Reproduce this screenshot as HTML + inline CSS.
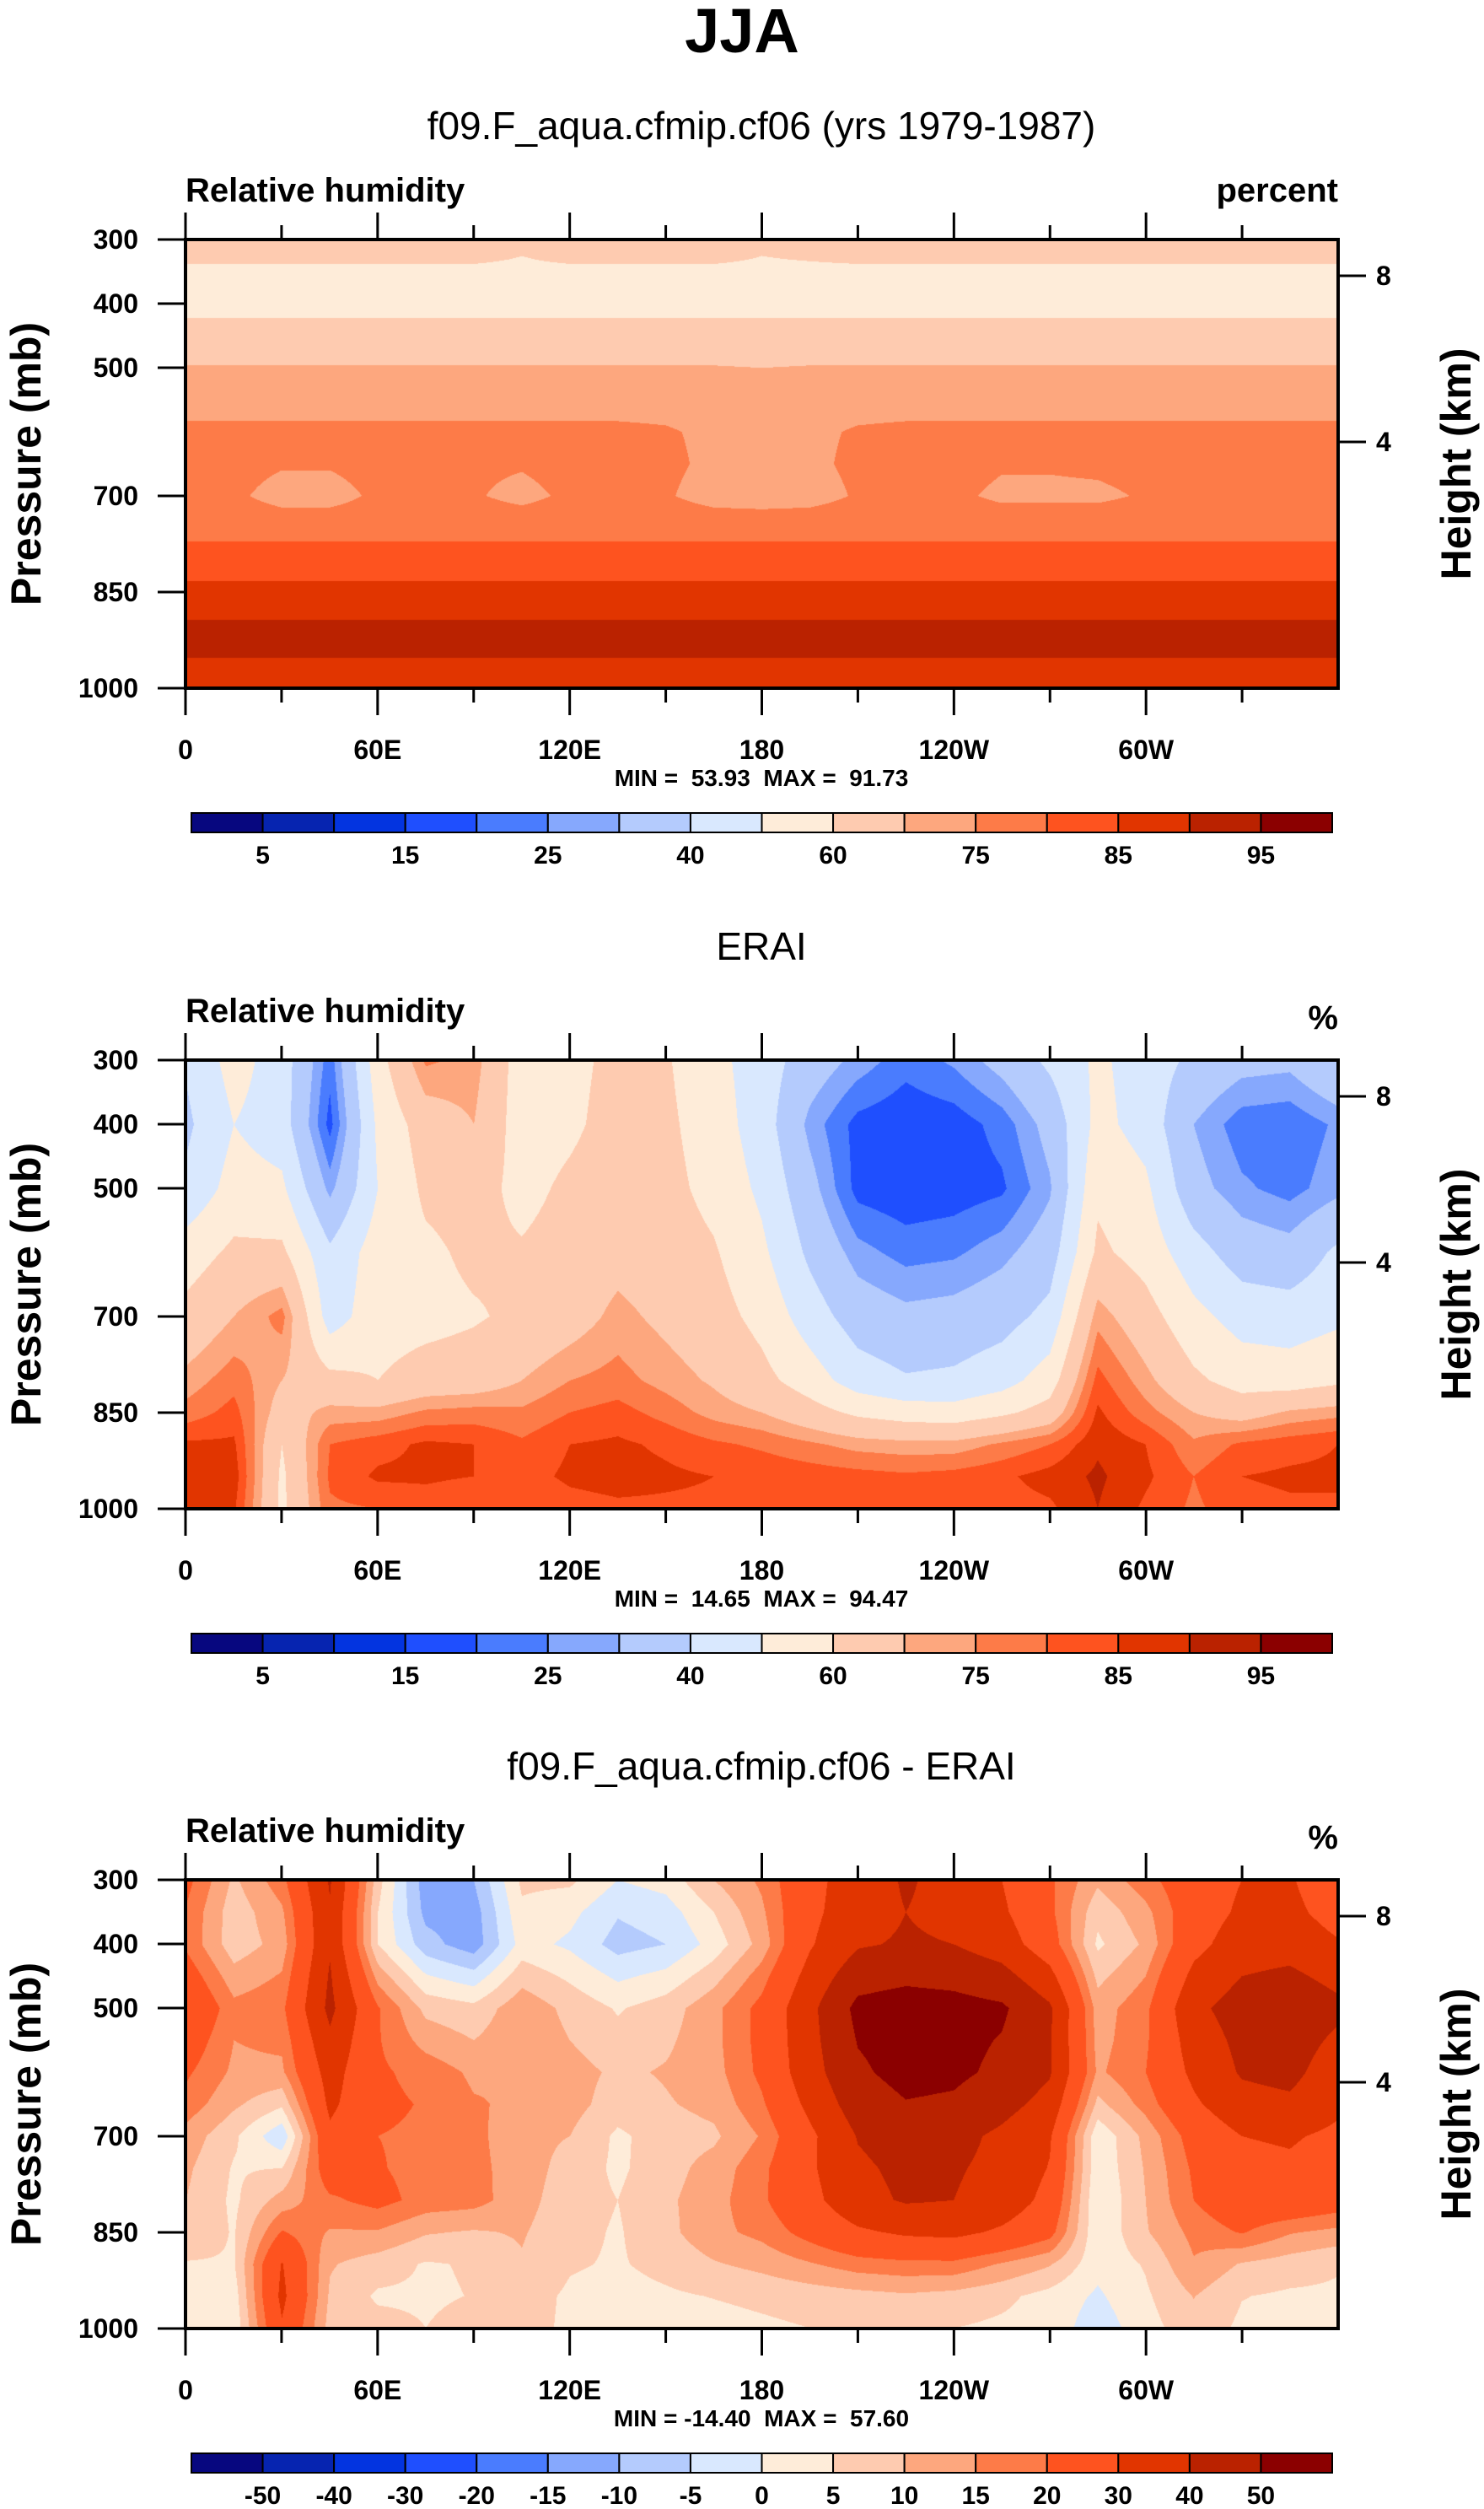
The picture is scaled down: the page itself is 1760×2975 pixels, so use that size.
<!DOCTYPE html>
<html><head><meta charset="utf-8">
<style>
html,body{margin:0;padding:0;background:#fff;}
#wrap{position:relative;width:1760px;height:2975px;overflow:hidden;font-family:"Liberation Sans",Arial,sans-serif;}
canvas{position:absolute;}
svg{position:absolute;left:0;top:0;}
</style></head>
<body>
<div id="wrap">
<canvas id="c1" width="1367" height="532" style="left:220px;top:284px"></canvas>
<canvas id="c2" width="1367" height="532" style="left:220px;top:1257px"></canvas>
<canvas id="c3" width="1367" height="532" style="left:220px;top:2229px"></canvas>
<svg id="ov" width="1760" height="2975" xmlns="http://www.w3.org/2000/svg">
<text x="880" y="62" text-anchor="middle" font-size="74" font-weight="bold">JJA</text>
</svg>
</div>
<script>
// ---------- DATA ----------
const lons = [0,15,30,45,60,75,90,105,120,135,150,165,180,195,210,225,240,255,270,285,300,315,330,345,360];
const modelLevs = [300,350,400,450,500,550,600,650,700,750,800,850,900,950,1000];
const modelRH = [
[63,63,63,63,63,63,63,61,63,63,63,63,61,62,63,63,63,63,63,63,63,63,63,63,63],
[59,59,59,59,59,59,59,59,59,59,59,59,59,59,59,59,59,59,59,59,59,59,59,59,59],
[57,57,57,57,57,57,57,57,57,57,57,57,57,57,57,57,57,57,57,57,57,57,57,57,57],
[64,64,64,64,64,64,64,64,64,64,64,64,64,64,64,64,64,64,64,64,64,64,64,64,64],
[70.5,70.5,70.5,70.5,70.5,70.5,70.5,70.5,70.5,70.5,70.5,70.5,70,70.5,70.5,70.5,70.5,70.5,70.5,70.5,70.5,70.5,70.5,70.5,70.5],
[73,73,73,73,73,73,73,73,73,73,73,72.5,72,72.5,73,73,73,73,73,73,73,73,73,73,73],
[76,76,76,76,76,76,76,76,76,76,75.5,74,73.5,74,75.5,76,76,76,76,76,76,76,76,76,76],
[77,77,75.5,75.5,77,77,76,75.5,77,77,76,74,73.5,74,76,77,77,75.5,75.5,76,77,77,77,77,77],
[76,76,73,73,76,76,75.5,73.5,76,76,75.5,73,72.5,73,75.5,76,76,74,74,74,75.5,76,76,76,76],
[78.5,78.5,78.5,78.5,78.5,78.5,78.5,78.5,78.5,78.5,78.5,78.5,78.5,78.5,78.5,78.5,78.5,78.5,78.5,78.5,78.5,78.5,78.5,78.5,78.5],
[82,82,82,82,82,82,82,82,82,82,82,82,82,82,82,82,82,82,82,82,82,82,82,82,82],
[86.5,86.5,86.5,86.5,86.5,86.5,86.5,86.5,86.5,86.5,86.5,86.5,86.5,86.5,86.5,86.5,86.5,86.5,86.5,86.5,86.5,86.5,86.5,86.5,86.5],
[90.5,90.5,90.5,90.5,90.5,90.5,90.5,90.5,90.5,90.5,90.5,90.5,90.5,90.5,90.5,90.5,90.5,90.5,90.5,90.5,90.5,90.5,90.5,90.5,90.5],
[90.2,90.2,90.2,90.2,90.2,90.2,90.2,90.2,90.2,90.2,90.2,90.2,90.2,90.2,90.2,90.2,90.2,90.2,90.2,90.2,90.2,90.2,90.2,90.2,90.2],
[87,87,87,87,87,87,87,87,87,87,87,87,87,87,87,87,87,87,87,87,87,87,87,87,87]
];
const eraLevs = [300,400,500,600,700,800,850,900,950,1000];
// columns by longitude (0..360 step 15), each giving values at eraLevs
const eraCols = [
[41,38,42,55,63,72,77,86,87,86],
[54,50,54,62,70,78,82,86,88,86],
[45,45,52,62,77,70,66,60,58,58],
[22,18,28,42,45,63,72,80,81,79],
[56,52,50,55,56,60,72,83,86,80],
[76,65,62,58,57,64,76,86,86,82],
[73,70,64,62,59,65,77,85,85,80],
[55,55,57,61,62,70,76,81,83,80],
[57,58,62,64,66,75,80,85,86,83],
[63,64,66,67,72,77,82,86,87,84],
[61,62,63,65,68,73,78,84,86,84],
[53,55,57,61,64,69,73,81,85,84],
[45,45,48,52,57,63,70,79,84,83],
[35,28,33,38,45,55,64,76,83,82],
[28,18,18,27,35,45,58,73,82,82],
[22,16,16,23,32,41,55,72,81,81],
[26,17,17,24,33,42,54,72,82,82],
[33,22,19,28,36,46,58,76,84,83],
[42,33,29,35,43,55,64,80,87,84],
[52,53,58,62,73,82,86,89,91,90],
[45,46,52,56,64,72,77,85,86,84],
[38,30,33,44,53,62,70,76,80,79],
[33,22,26,35,46,56,66,81,85,83],
[32,21,23,33,45,55,71,83,86,84],
[40,26,28,42,48,58,73,85,86,84]
];
const rhBounds = [5,10,15,20,25,30,40,50,60,70,75,80,85,90,95];
const rhLabels = ["5","15","25","40","60","75","85","95"];
const diffBounds = [-50,-40,-30,-20,-15,-10,-5,0,5,10,15,20,30,40,50];
const diffLabels = ["-50","-40","-30","-20","-15","-10","-5","0","5","10","15","20","30","40","50"];
const palette = ['#07077f','#0624b0','#0334e0','#1f4ffe','#4a7cfe','#86a8fd','#b4cbfd','#d9e8fe','#feecd9','#fecbb0','#fda77e','#fd7b48','#fe531f','#e13500','#ba2200','#8b0000'];
const lonTicks = [0,60,120,180,240,300];
const lonTickLabels = ["0","60E","120E","180","120W","60W"];
const presTicks = [300,400,500,700,850,1000];
const heightTicks = [8,4];
const heightTickFrac = [43/532, 240/532];
const minmax = ["MIN =  53.93  MAX =  91.73","MIN =  14.65  MAX =  94.47","MIN = -14.40  MAX =  57.60"];

// ---------- helpers ----------
const X0=220, W=1367, H=532;
const panelTops=[284,1257,2229];
function xOfLon(l){return X0 + l/360*W;}
function yOfP(top,p){return top + (p-300)/700*H;}
function lerpIdx(arr,v){let i=0;while(i<arr.length-2 && v>arr[i+1]) i++;const t=(v-arr[i])/(arr[i+1]-arr[i]);return [i,Math.max(0,Math.min(1,t))];}
function modelVal(lon,p){const [i,ti]=lerpIdx(lons,lon);const [j,tj]=lerpIdx(modelLevs,p);
 const a=modelRH[j][i],b=modelRH[j][i+1],c=modelRH[j+1][i],d=modelRH[j+1][i+1];
 return (a*(1-ti)+b*ti)*(1-tj)+(c*(1-ti)+d*ti)*tj;}
function eraVal(lon,p){const [i,ti]=lerpIdx(lons,lon);const [j,tj]=lerpIdx(eraLevs,p);
 const a=eraCols[i][j],b=eraCols[i+1][j],c=eraCols[i][j+1],d=eraCols[i+1][j+1];
 return (a*(1-ti)+b*ti)*(1-tj)+(c*(1-ti)+d*ti)*tj;}
function bin(v,b){let k=0;while(k<b.length && v>=b[k])k++;return k;}
const rgb=palette.map(h=>[parseInt(h.slice(1,3),16),parseInt(h.slice(3,5),16),parseInt(h.slice(5,7),16)]);
function paint(id,fn,bounds){
 const cv=document.getElementById(id),ctx=cv.getContext('2d');const img=ctx.createImageData(W,H);
 for(let y=0;y<H;y++){const p=300+y/(H-1)*700;
  for(let x=0;x<W;x++){const lon=x/(W-1)*360;const c=rgb[bin(fn(lon,p),bounds)];const o=(y*W+x)*4;
   img.data[o]=c[0];img.data[o+1]=c[1];img.data[o+2]=c[2];img.data[o+3]=255;}}
 ctx.putImageData(img,0,0);}
paint('c1',modelVal,rhBounds);
paint('c2',eraVal,rhBounds);
paint('c3',(l,p)=>modelVal(l,p)-eraVal(l,p),diffBounds);

// ---------- axes ----------
const NS="http://www.w3.org/2000/svg";const svg=document.getElementById('ov');
function mk(tag,attrs,txt){const e=document.createElementNS(NS,tag);for(const k in attrs)e.setAttribute(k,attrs[k]);if(txt!==undefined)e.textContent=txt;svg.appendChild(e);return e;}
const subtitles=["f09.F_aqua.cfmip.cf06 (yrs 1979-1987)","ERAI","f09.F_aqua.cfmip.cf06 - ERAI"];
const units=["percent","%","%"];
for(let k=0;k<3;k++){
 const T=panelTops[k],B=T+H;
 let e=mk('text',{x:903,y:T-119,'text-anchor':'middle','font-size':46},subtitles[k]);
 
 
 e=mk('text',{x:220,y:T-45,'font-size':40,'font-weight':'bold'},"Relative humidity");
 
 
 e=mk('text',{x:1587,y:k==0?T-45:T-37,'text-anchor':'end','font-size':40,'font-weight':'bold'},units[k]);
 
 
 for(let l=0;l<=330;l+=30){const x=xOfLon(l);const major=l%60==0;
  e=mk('line',{x1:x,x2:x,y1:T,y2:T-(major?32:17),stroke:'#000','stroke-width':3});
  
  
  e=mk('line',{x1:x,x2:x,y1:B,y2:B+(major?32:17),stroke:'#000','stroke-width':3});
  
  }
 lonTicks.forEach((l,i)=>{const t=mk('text',{x:xOfLon(l),y:B+84,'text-anchor':'middle','font-size':32,'font-weight':'bold'},lonTickLabels[i]);
  
  });
 presTicks.forEach(p=>{const y=yOfP(T,p);
  const l=mk('line',{x1:187,x2:220,y1:y,y2:y,stroke:'#000','stroke-width':3});
  
  
  const t=mk('text',{x:164,y:y+11,'text-anchor':'end','font-size':32,'font-weight':'bold'},String(p));
  
  });
 heightTicks.forEach((h,i)=>{const y=T+heightTickFrac[i]*H;
  const l=mk('line',{x1:1587,x2:1620,y1:y,y2:y,stroke:'#000','stroke-width':3});
  
  
  const t=mk('text',{x:1632,y:y+11,'font-size':32,'font-weight':'bold'},String(h));
  
  });
 e=mk('rect',{x:220,y:T,width:W,height:H,fill:'none',stroke:'#000','stroke-width':4});
 
 
 const cy=T+H/2;
 e=mk('text',{x:0,y:0,'text-anchor':'middle','font-size':50,'font-weight':'bold',transform:`translate(48,${cy}) rotate(-90)`},"Pressure (mb)");
 
 
 e=mk('text',{x:0,y:0,'text-anchor':'middle','font-size':50,'font-weight':'bold',transform:`translate(1744,${cy}) rotate(-90)`},"Height (km)");
 
 
 e=mk('text',{x:903,y:B+116,'text-anchor':'middle','font-size':28,'font-weight':'bold',style:'white-space:pre'},minmax[k]);
 
 
 const cbx=227,cbw=1353,cby=B+148,cbh=23,bw=cbw/16;
 for(let i=0;i<16;i++){const r=mk('rect',{x:cbx+i*bw,y:cby,width:bw,height:cbh,fill:palette[i],stroke:'#000','stroke-width':2});
  
  }
 if(k<2){rhLabels.forEach((s,i)=>{const t=mk('text',{x:cbx+(2*i+1)*bw,y:B+208,'text-anchor':'middle','font-size':30,'font-weight':'bold'},s);
  
  });}
 else{diffLabels.forEach((s,i)=>{const t=mk('text',{x:cbx+(i+1)*bw,y:B+208,'text-anchor':'middle','font-size':30,'font-weight':'bold'},s);
  
  });}
}
</script>
</body></html>
